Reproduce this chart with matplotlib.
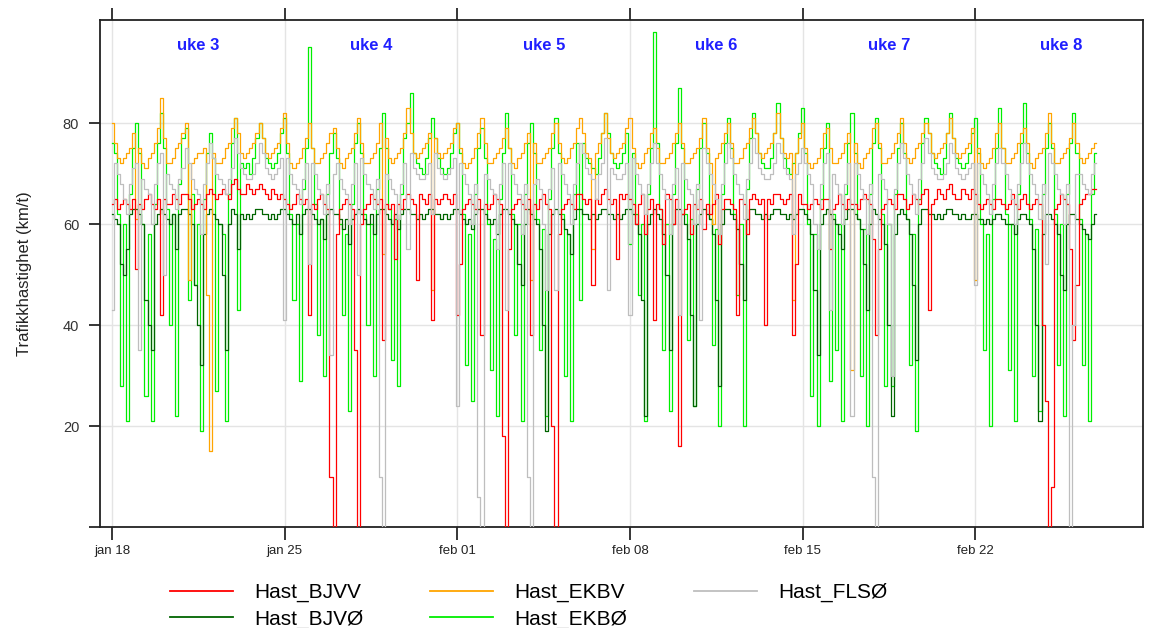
import numpy as np
import matplotlib
matplotlib.use('Agg')
import matplotlib.pyplot as plt

plt.rcParams['font.family'] = ['Liberation Sans', 'DejaVu Sans']

# x-akse: 3-timers verdier fra 18. januar (40 dager, 8 verdier per dag)
tick_days = [0, 7, 14, 21, 28, 35]
tick_labels = ['jan 18', 'jan 25', 'feb 01', 'feb 08', 'feb 15', 'feb 22']
week_labels = ['uke 3', 'uke 4', 'uke 5', 'uke 6', 'uke 7', 'uke 8']
series_names = ['Hast_BJVV', 'Hast_BJVØ', 'Hast_EKBV', 'Hast_EKBØ', 'Hast_FLSØ']

# Hast_BJVV (rød)
hast_bjvv = [
    [64, 65, 63, 64, 65, 64, 63, 65], [51, 64, 63, 65, 66, 64, 63, 65],
    [42, 65, 64, 64, 66, 65, 64, 66], [66, 65, 63, 64, 65, 64, 63, 66],
    [67, 66, 65, 66, 67, 66, 65, 68], [69, 67, 66, 66, 68, 67, 66, 67],
    [68, 67, 66, 65, 67, 66, 65, 66], [65, 64, 63, 64, 66, 65, 64, 65],
    [42, 64, 63, 65, 66, 64, 63, 10], [0, 58, 63, 64, 65, 64, 63, 35],
    [0, 60, 63, 64, 66, 65, 64, 65], [37, 64, 63, 64, 53, 64, 63, 65],
    [66, 65, 64, 49, 66, 65, 64, 66], [41, 65, 64, 65, 66, 65, 64, 66],
    [42, 52, 63, 64, 65, 64, 63, 65], [38, 64, 63, 64, 66, 65, 64, 18],
    [0, 55, 63, 64, 65, 64, 63, 65], [38, 64, 63, 65, 66, 64, 63, 20],
    [0, 58, 63, 64, 65, 64, 63, 66], [66, 65, 64, 65, 48, 65, 64, 66],
    [67, 65, 64, 65, 53, 66, 65, 66], [65, 64, 60, 64, 66, 58, 63, 65],
    [41, 64, 63, 56, 66, 65, 60, 65], [16, 62, 63, 64, 58, 64, 63, 65],
    [59, 64, 62, 64, 66, 56, 63, 65], [65, 64, 63, 42, 65, 64, 58, 65],
    [66, 65, 64, 65, 40, 65, 64, 66], [66, 65, 64, 65, 66, 38, 52, 66],
    [64, 64, 63, 64, 65, 64, 63, 65], [65, 55, 63, 64, 66, 64, 63, 65],
    [64, 64, 63, 65, 66, 65, 64, 57], [38, 55, 63, 64, 65, 64, 63, 66],
    [66, 65, 63, 64, 66, 65, 64, 66], [67, 43, 64, 65, 67, 66, 65, 67],
    [68, 66, 65, 65, 67, 66, 65, 67], [66, 64, 63, 64, 65, 64, 63, 65],
    [65, 64, 63, 64, 66, 64, 63, 65], [66, 64, 63, 64, 65, 64, 40, 25],
    [0, 8, 63, 64, 66, 65, 64, 55], [37, 48, 64, 65, 66, 66, 67, 67],
]

# Hast_BJVØ (mørkegrønn)
hast_bjvo = [
    [62, 61, 60, 52, 50, 55, 62, 63], [63, 62, 60, 45, 40, 35, 60, 62],
    [63, 62, 61, 60, 62, 55, 62, 63], [63, 62, 60, 48, 40, 32, 58, 62],
    [63, 62, 61, 60, 50, 35, 60, 63], [62, 55, 62, 61, 62, 61, 62, 63],
    [63, 62, 62, 61, 62, 61, 62, 63], [63, 62, 61, 60, 62, 58, 62, 63],
    [63, 62, 61, 60, 61, 57, 62, 63], [62, 62, 61, 59, 61, 56, 61, 62],
    [63, 62, 61, 60, 62, 58, 62, 63], [63, 62, 61, 60, 62, 59, 62, 63],
    [63, 62, 62, 61, 62, 61, 62, 63], [63, 62, 62, 61, 62, 61, 62, 63],
    [63, 62, 61, 60, 61, 59, 62, 63], [63, 62, 61, 60, 61, 58, 62, 63],
    [63, 62, 61, 60, 52, 48, 60, 63], [62, 61, 60, 55, 40, 19, 58, 62],
    [63, 62, 61, 59, 58, 54, 61, 63], [63, 62, 62, 61, 62, 61, 62, 63],
    [63, 62, 62, 61, 62, 61, 62, 63], [63, 62, 60, 58, 45, 22, 60, 62],
    [63, 62, 61, 58, 50, 35, 60, 63], [63, 62, 60, 57, 42, 24, 60, 62],
    [63, 62, 61, 58, 45, 28, 60, 63], [63, 62, 61, 59, 52, 45, 61, 63],
    [63, 62, 62, 61, 62, 61, 62, 63], [63, 62, 62, 61, 62, 61, 62, 63],
    [63, 62, 61, 58, 47, 34, 60, 62], [63, 62, 61, 60, 58, 55, 61, 63],
    [63, 62, 61, 59, 52, 43, 60, 63], [62, 61, 60, 56, 40, 22, 58, 62],
    [63, 62, 61, 58, 48, 33, 60, 63], [63, 62, 62, 61, 62, 61, 62, 63],
    [63, 62, 62, 61, 62, 61, 61, 62], [62, 61, 61, 60, 61, 60, 61, 62],
    [62, 61, 60, 60, 60, 58, 61, 62], [62, 61, 60, 55, 40, 21, 58, 62],
    [62, 61, 60, 58, 50, 47, 60, 62], [62, 61, 60, 59, 58, 57, 60, 62],
]

# Hast_EKBV (oransje)
hast_ekbv = [
    [80, 76, 73, 72, 73, 74, 75, 78], [61, 75, 72, 71, 73, 74, 76, 79],
    [85, 77, 72, 72, 73, 75, 76, 78], [80, 49, 72, 73, 74, 74, 75, 46],
    [15, 74, 72, 72, 73, 75, 76, 79], [81, 78, 74, 73, 74, 75, 76, 78],
    [80, 77, 74, 73, 74, 75, 76, 79], [82, 76, 72, 71, 72, 73, 75, 77],
    [80, 75, 72, 72, 73, 74, 76, 78], [79, 75, 72, 71, 73, 74, 75, 78],
    [81, 76, 72, 72, 73, 74, 76, 80], [54, 77, 73, 72, 73, 74, 75, 78],
    [83, 78, 74, 73, 74, 75, 76, 78], [47, 77, 74, 73, 74, 75, 76, 79],
    [80, 75, 72, 71, 72, 73, 75, 78], [81, 76, 72, 72, 73, 74, 75, 77],
    [79, 75, 72, 71, 73, 74, 76, 78], [49, 76, 72, 72, 73, 74, 75, 78],
    [80, 76, 73, 72, 73, 75, 76, 79], [81, 78, 74, 73, 55, 74, 76, 78],
    [82, 77, 74, 73, 74, 75, 76, 79], [81, 75, 72, 71, 72, 74, 75, 78],
    [79, 75, 72, 72, 73, 74, 76, 78], [80, 76, 72, 72, 73, 74, 75, 77],
    [81, 75, 72, 60, 73, 74, 76, 78], [80, 76, 72, 72, 73, 75, 76, 79],
    [81, 78, 74, 73, 74, 75, 76, 78], [82, 77, 74, 73, 74, 45, 74, 77],
    [80, 75, 72, 71, 72, 73, 75, 78], [79, 75, 72, 72, 73, 74, 76, 78],
    [31, 76, 72, 71, 73, 74, 75, 79], [80, 76, 72, 72, 73, 74, 76, 78],
    [81, 76, 73, 72, 73, 75, 76, 78], [80, 78, 74, 73, 74, 75, 76, 78],
    [81, 77, 74, 73, 74, 75, 76, 79], [49, 75, 72, 71, 72, 73, 75, 78],
    [80, 75, 72, 72, 73, 74, 76, 78], [79, 76, 72, 71, 73, 74, 75, 78],
    [82, 76, 72, 72, 73, 74, 75, 77], [80, 76, 73, 72, 73, 74, 75, 76],
]

# Hast_EKBØ (lysegrønn)
hast_ekbo = [
    [76, 74, 62, 28, 60, 21, 66, 75], [80, 74, 60, 26, 58, 21, 64, 76],
    [82, 75, 63, 40, 62, 22, 68, 77], [79, 45, 66, 48, 60, 19, 65, 74],
    [78, 73, 27, 60, 58, 21, 66, 76], [81, 43, 72, 71, 72, 70, 73, 77],
    [80, 77, 73, 72, 71, 72, 74, 78], [81, 74, 62, 45, 60, 29, 67, 75],
    [95, 75, 64, 38, 61, 30, 66, 74], [78, 73, 60, 42, 58, 23, 64, 76],
    [80, 74, 62, 40, 60, 30, 67, 75], [82, 75, 63, 33, 61, 28, 66, 77],
    [80, 86, 74, 72, 71, 70, 73, 77], [81, 77, 73, 71, 70, 71, 74, 78],
    [80, 74, 62, 32, 58, 25, 66, 75], [79, 73, 60, 31, 57, 22, 65, 74],
    [82, 75, 62, 38, 60, 21, 66, 76], [80, 74, 61, 35, 59, 22, 65, 75],
    [81, 74, 62, 30, 58, 21, 66, 76], [45, 76, 73, 72, 71, 70, 73, 78],
    [82, 78, 74, 72, 71, 72, 74, 78], [56, 74, 62, 46, 60, 21, 66, 75],
    [98, 76, 63, 35, 60, 23, 66, 76], [87, 75, 62, 37, 61, 24, 67, 75],
    [80, 74, 61, 36, 59, 20, 66, 76], [81, 75, 62, 46, 60, 20, 67, 77],
    [82, 78, 74, 72, 71, 71, 73, 78], [84, 77, 73, 71, 70, 72, 74, 78],
    [83, 74, 60, 26, 58, 20, 65, 75], [80, 29, 62, 35, 60, 21, 66, 76],
    [82, 74, 61, 30, 59, 20, 66, 76], [81, 75, 62, 28, 60, 28, 66, 75],
    [80, 74, 61, 32, 58, 19, 65, 76], [81, 78, 74, 72, 71, 70, 73, 78],
    [82, 77, 73, 72, 71, 72, 74, 78], [81, 74, 60, 35, 58, 20, 65, 75],
    [83, 75, 62, 31, 60, 21, 66, 76], [84, 74, 61, 30, 59, 23, 66, 75],
    [80, 75, 62, 32, 60, 22, 66, 76], [82, 74, 61, 32, 58, 21, 66, 74],
]

# Hast_FLSØ (grå)
hast_flso = [
    [43, 72, 70, 68, 65, 62, 68, 71], [72, 35, 69, 67, 66, 60, 68, 72],
    [74, 50, 70, 68, 67, 63, 69, 71], [75, 72, 69, 67, 66, 58, 68, 72],
    [76, 73, 70, 69, 68, 66, 69, 71], [77, 74, 71, 70, 69, 69, 70, 72],
    [76, 74, 71, 70, 69, 70, 71, 73], [41, 73, 70, 68, 67, 64, 69, 72],
    [52, 72, 70, 67, 66, 62, 68, 34], [70, 72, 69, 67, 66, 60, 68, 72],
    [50, 73, 70, 68, 67, 63, 69, 10], [0, 70, 69, 67, 66, 61, 68, 72],
    [55, 74, 71, 70, 69, 69, 70, 72], [62, 74, 71, 70, 69, 70, 71, 73],
    [24, 72, 70, 68, 66, 60, 68, 6], [0, 70, 69, 67, 66, 55, 68, 72],
    [43, 72, 70, 68, 66, 58, 68, 10], [0, 68, 69, 67, 60, 47, 67, 71],
    [47, 72, 70, 68, 66, 60, 68, 72], [76, 74, 71, 70, 69, 65, 70, 72],
    [77, 47, 71, 70, 69, 69, 70, 72], [42, 73, 70, 68, 66, 62, 68, 72],
    [76, 72, 70, 67, 65, 58, 68, 71], [42, 72, 69, 67, 66, 60, 68, 41],
    [75, 72, 70, 68, 65, 58, 68, 72], [76, 73, 70, 68, 66, 61, 69, 72],
    [77, 74, 71, 70, 69, 69, 70, 72], [76, 74, 71, 70, 69, 58, 70, 72],
    [75, 72, 70, 68, 60, 55, 68, 72], [74, 43, 70, 68, 66, 60, 68, 72],
    [22, 72, 70, 67, 65, 58, 68, 10], [0, 70, 69, 67, 60, 30, 67, 72],
    [76, 73, 70, 68, 66, 62, 69, 72], [77, 74, 71, 70, 69, 69, 70, 72],
    [76, 74, 71, 70, 69, 70, 71, 72], [48, 72, 70, 68, 66, 62, 68, 72],
    [75, 72, 70, 67, 65, 60, 68, 72], [76, 72, 70, 68, 66, 61, 68, 52],
    [74, 72, 70, 67, 66, 60, 68, 0], [40, 70, 70, 68, 67, 66, 70, 72],
]

colors = ['red', 'darkgreen', 'orange', '#00ee00', '#bebebe']
zorders = [4, 2, 3, 1, 5]
all_series = [hast_bjvv, hast_bjvo, hast_ekbv, hast_ekbo, hast_flso]

fig = plt.figure(figsize=(11.57, 6.28), dpi=100)
ax = fig.add_axes([100 / 1157, 1 - 527 / 628, 1043 / 1157, 507 / 628])

handles = []
for name, data, col, z in zip(series_names, all_series, colors, zorders):
    vals = np.array(data, dtype=float).ravel()
    days = np.arange(len(vals)) * 3 / 24
    line, = ax.plot(days, vals, drawstyle='steps-mid', color=col, lw=0.9, zorder=z, label=name)
    handles.append(line)

ax.set_xlim(-0.49, 41.8)
ax.set_ylim(0, 100.4)
ax.set_xticks(tick_days)
ax.set_xticklabels(tick_labels, fontsize=9.5, color='#222222')
ax.set_yticks([0, 20, 40, 60, 80])
ax.set_yticklabels(['', '20', '40', '60', '80'], fontsize=10.5, color='#333333')
ax.tick_params(axis='x', direction='out', length=9, width=1.1, top=True, pad=4)
ax.tick_params(axis='y', direction='out', length=8, width=1.1, pad=7)
ax.grid(True, color='#e4e4e4', lw=1)
ax.set_axisbelow(True)
for sp in ax.spines.values():
    sp.set_linewidth(1.3)
    sp.set_color('#222222')

ax.set_ylabel('Trafikkhastighet (km/t)', fontsize=12, color='#222222', labelpad=22)

# ukenummer over hver uke
for i, lab in enumerate(week_labels):
    ax.text(tick_days[i] + 3.5, 95.4, lab, ha='center', va='center',
            color='#2020ff', fontweight='bold', fontsize=12)

leg = fig.legend(handles=handles, loc='upper left', bbox_to_anchor=(170 / 1157, 1 - 583 / 628),
                 ncol=3, frameon=False, fontsize=15, handlelength=3.0, handletextpad=1.05,
                 columnspacing=3.2, labelspacing=0.35, borderpad=0, borderaxespad=0)
for h in leg.legend_handles:
    h.set_linewidth(1.3)

fig.savefig('out.png', dpi=100)
